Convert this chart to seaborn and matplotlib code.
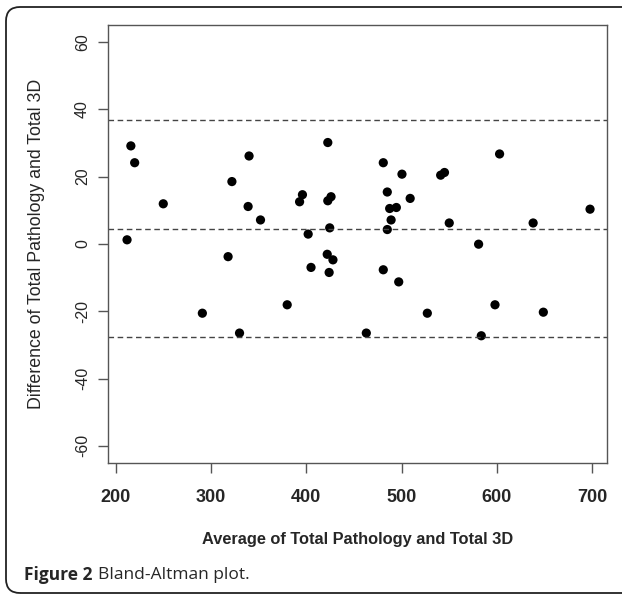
import matplotlib
matplotlib.use("Agg")
import matplotlib.pyplot as plt
from matplotlib.patches import FancyBboxPatch
import seaborn as sns
import pandas as pd

# average of the two measurements (x) and their difference (y)
average = [216, 220, 212, 250, 322, 340, 339, 352, 318, 393, 396, 402, 405,
           422.6, 422.6, 426, 424.6, 422, 428, 424, 480.8, 485, 487.5, 494.5,
           489, 485, 480.8, 497, 500.4, 509, 541, 545, 550, 580.8, 602.8, 638,
           697.7, 291, 330, 380, 463, 527, 583.6, 598, 648.7]
difference = [29.1, 24.1, 1.2, 11.9, 18.5, 26.1, 11.1, 7.1, -3.8, 12.5, 14.6,
              2.9, -7.0, 30.1, 12.8, 14.0, 4.75, -3.1, -4.75, -8.5, 24.1, 15.4,
              10.5, 10.8, 7.1, 4.25, -7.7, -11.3, 20.7, 13.5, 20.4, 21.2, 6.2,
              -0.1, 26.7, 6.2, 10.3, -20.6, -26.5, -18.1, -26.5, -20.6, -27.3,
              -18.1, -20.3]

mean_diff = 4.3
upper_loa = 36.7
lower_loa = -27.8

x_ticks = [200, 300, 400, 500, 600, 700]
y_ticks = [-60, -40, -20, 0, 20, 40, 60]

df = pd.DataFrame({"avg": average, "diff": difference})

sns.set_style("ticks")
plt.rcParams["font.family"] = ["Liberation Sans", "DejaVu Sans"]
plt.rcParams["axes.unicode_minus"] = False

fig = plt.figure(figsize=(6.22, 5.96), dpi=100)
ax = fig.add_axes([0.1736, 0.2237, 0.8023, 0.7343])

sns.scatterplot(data=df, x="avg", y="diff", ax=ax, color="black", s=44,
                edgecolor="none", linewidth=0)

for yv in [upper_loa, mean_diff, lower_loa]:
    ax.axhline(yv, color="#444444", lw=1.0, ls=(0, (4, 2.6)))

ax.set_xlim(192, 715.5)
ax.set_ylim(-65, 65)
ax.set_xticks(x_ticks)
ax.set_yticks(y_ticks)

for sp in ax.spines.values():
    sp.set_color("#555555")
    sp.set_linewidth(1.0)

ax.tick_params(axis="both", direction="out", length=7, width=1, color="#555555")
ax.tick_params(axis="x", pad=12, labelsize=13)
ax.tick_params(axis="y", pad=6, labelsize=11.5)
for lab in ax.get_xticklabels():
    lab.set_fontweight("bold")
plt.setp(ax.get_yticklabels(), rotation=90, va="center", ha="right")

ax.set_xlabel("Average of Total Pathology and Total 3D", fontsize=11.8,
              fontweight="bold", va="center")
ax.xaxis.set_label_coords(0.5, -0.176)
ax.set_ylabel("Difference of Total Pathology and Total 3D", fontsize=12.8,
              va="center")
ax.yaxis.set_label_coords(-0.144, 0.5)

# caption
t1 = fig.text(24 / 622, 1 - 575 / 596, "Figure 2", fontsize=12.5,
              fontweight="bold", family=["Open Sans", "DejaVu Sans"],
              va="center", ha="left")
fig.canvas.draw()
bb = t1.get_window_extent()
fig.text((bb.x1 + 6) / 622, 1 - 575 / 596, "Bland-Altman plot.", fontsize=12.5,
         family=["Open Sans", "DejaVu Sans"], va="center", ha="left")

# rounded panel frame
frame = FancyBboxPatch((6, 3), 660, 586,
                       boxstyle="round,pad=0,rounding_size=14",
                       transform=None, fill=False, ec="#222222", lw=1.3)
fig.patches.append(frame)

fig.savefig("out.png", dpi=100)
